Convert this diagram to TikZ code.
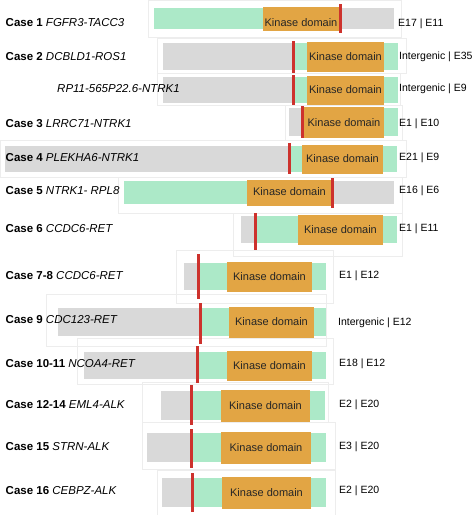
\documentclass[tikz,border=0pt]{standalone}
\usepackage{fontspec}
\setmainfont{Liberation Sans}
\definecolor{nonkin}{RGB}{217,217,217}
\definecolor{kinprot}{RGB}{172,233,200}
\definecolor{kindom}{RGB}{226,165,68}
\definecolor{breakred}{RGB}{205,50,45}

\begin{document}
\begin{tikzpicture}[x=1pt, y=-1pt,
  every node/.style={font=\fontsize{11.5}{13}\selectfont, inner sep=0pt},
  frame/.style={draw=black!7, line width=0.6pt},
  partner/.style={fill=nonkin},
  protein/.style={fill=kinprot},
  kinase/.style={fill=kindom},
  kintext/.style={font=\fontsize{11}{13}\selectfont, text=black!85},
  breakpt/.style={draw=breakred, line width=3pt},
  caselabel/.style={anchor=west},
  exonlabel/.style={anchor=west, font=\fontsize{10.5}{12}\selectfont}
]
\useasboundingbox (0,0) rectangle (474,515);
\foreach \a/\b/\c/\d in {148/0/401/37, 157/38/406/73, 157/73/400/105,
  285/105/402/140, 0/140/406/177, 118/177/402/213, 233/213/402/256,
  176/250/333/303, 46/294/326/346, 77/338/333/384, 142/382/328/422,
  142/422/335/469, 157/470/335/520}
  \draw[frame] (\a,\b) rectangle (\c,\d);

\foreach \n/\ya/\yb/\ga/\gb/\na/\nb/\oa/\ob/\rx/\ra/\rb/\ty in {
  1/8/29/263/394/154/263/263/339/340/4/33/4.5,
  2/43/70/163/293/293/398/307/384/293/41/73/0,
  3/77/103/163/293/293/398/307/384/293/75/105/0,
  4/108/136/289/302/302/398/304/384/302/106/138/1,
  5/146/172/5/289/289/397/302/383/289/143/174/0,
  6/181/204/247/394/124/247/247/332/332/178/208/-1,
  7/216/243/241/255/255/397/298/383/255/213/250/0,
  8/263/290/184/198/198/326/227/312/198/254/299/0,
  9/308/336/58/200/200/326/229/314/200/303/344/0,
  10/352/379/84/197/197/326/227/312/197/346/383/0,
  11/391/420/161/191/191/325/221/310/191/385/425/0,
  12/433/462/147/191/191/326/221/311/191/429/468/0,
  13/478/507/162/192/192/326/222/311/192/473/512/0}
{
  \fill[partner] (\ga,\ya) rectangle (\gb,\yb);
  \fill[protein] (\na,\ya) rectangle (\nb,\yb);
  \fill[kinase] (\oa,\ya-1.5) rectangle (\ob,\yb+1.5);
  \node[kintext] (kin-\n) at ({(\oa+\ob)/2},{(\ya+\yb)/2+\ty}) {Kinase domain};
  \draw[breakpt] (\rx,\ra) -- (\rx,\rb);
}

\node[caselabel] (case-1) at (5.5,23) {\textbf{Case 1} \textit{FGFR3-TACC3}};
\node[caselabel] (case-2) at (5.5,57) {\textbf{Case 2} \textit{DCBLD1-ROS1}};
\node[caselabel] (case-2b) at (57,89) {\textit{RP11-565P22.6-NTRK1}};
\node[caselabel] (case-3) at (5.5,124) {\textbf{Case 3} \textit{LRRC71-NTRK1}};
\node[caselabel] (case-4) at (5.5,158) {\textbf{Case 4} \textit{PLEKHA6-NTRK1}};
\node[caselabel] (case-5) at (5.5,191) {\textbf{Case 5} \textit{NTRK1- RPL8}};
\node[caselabel] (case-6) at (5.5,229) {\textbf{Case 6} \textit{CCDC6-RET}};
\node[caselabel] (case-7) at (5.5,276) {\textbf{Case 7-8} \textit{CCDC6-RET}};
\node[caselabel] (case-9) at (5.5,320) {\textbf{Case 9} \textit{CDC123-RET}};
\node[caselabel] (case-10) at (5.5,364) {\textbf{Case 10-11} \textit{NCOA4-RET}};
\node[caselabel] (case-12) at (5.5,405) {\textbf{Case 12-14} \textit{EML4-ALK}};
\node[caselabel] (case-15) at (5.5,447) {\textbf{Case 15} \textit{STRN-ALK}};
\node[caselabel] (case-16) at (5.5,491) {\textbf{Case 16} \textit{CEBPZ-ALK}};

\node[exonlabel] (exon-1) at (398,24) {E17 | E11};
\node[exonlabel] (exon-2) at (399,57) {Intergenic | E35};
\node[exonlabel] (exon-2b) at (399,89) {Intergenic | E9};
\node[exonlabel] (exon-3) at (399,124) {E1 | E10};
\node[exonlabel] (exon-4) at (399,158) {E21 | E9};
\node[exonlabel] (exon-5) at (399,191) {E16 | E6};
\node[exonlabel] (exon-6) at (399,229) {E1 | E11};
\node[exonlabel] (exon-7) at (339,276) {E1 | E12};
\node[exonlabel] (exon-9) at (338,323) {Intergenic | E12};
\node[exonlabel] (exon-10) at (339,364) {E18 | E12};
\node[exonlabel] (exon-12) at (339,405) {E2 | E20};
\node[exonlabel] (exon-15) at (339,447) {E3 | E20};
\node[exonlabel] (exon-16) at (339,491) {E2 | E20};
\end{tikzpicture}
\end{document}
